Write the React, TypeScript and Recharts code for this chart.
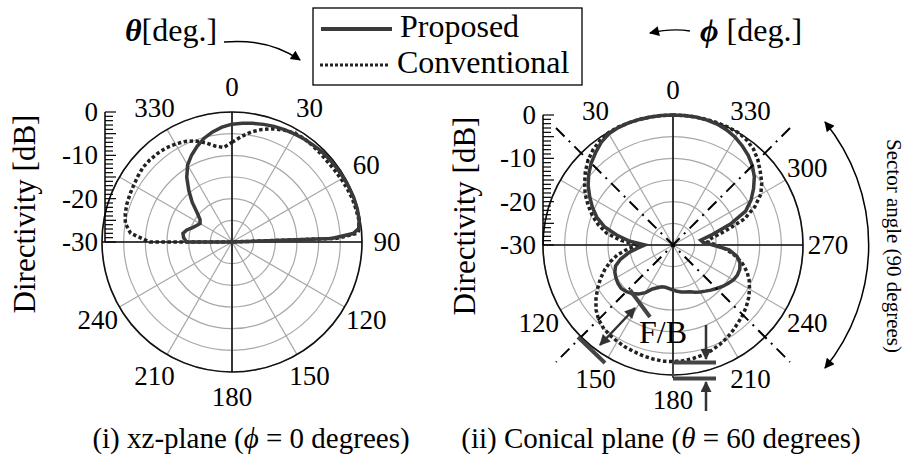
import React from "react";
import {
  LineChart,
  PolarAngleAxis,
  PolarGrid,
  PolarRadiusAxis,
  Radar,
  RadarChart,
  XAxis,
  YAxis,
} from "recharts";

// (i) xz-plane, theta in degrees (clockwise from top)
const LEFT_ANGLES = [
  0, 5, 10, 15, 20, 25, 30, 35, 40, 45, 50, 55, 60, 65, 70, 75, 80, 84, 86, 88, 90, 180, 268,
  270, 275, 280, 285, 290, 295, 300, 305, 310, 315, 320, 325, 330, 335, 340, 345, 350, 355,
];
const LEFT_PROPOSED = [
  -2.8, -2.5, -2.2, -1.9, -1.6, -1.4, -1.2, -1.0, -0.8, -0.6, -0.5, -0.4, -0.3, -0.2, -0.1, -0.1, -0.2, -0.6, -2, -7, -30, -30, -30,
  -19.5, -18.8, -18.5, -19.2, -20.3, -21, -21.5, -21, -19.5, -17, -14.5, -11.8, -9.5, -7.9, -6.5, -5.2, -4.2, -3.4,
];
const LEFT_CONVENTIONAL = [
  -7, -5.6, -4.2, -3.1, -2.2, -1.5, -1.0, -0.9, -1.0, -1.1, -1.2, -1.1, -0.9, -0.7, -0.5, -0.4, -0.3, -0.5, -0.9, -5.8, -30, -30, -30,
  -11, -6.5, -5.0, -4.5, -4.2, -4.0, -3.8, -3.5, -3.2, -3.2, -3.3, -3.5, -3.9, -4.4, -5.2, -6.3, -7.5, -8.1,
];

// (ii) conical plane, phi in degrees (counter-clockwise from top)
const RIGHT_ANGLES = [
  0, 5, 10, 15, 20, 25, 30, 35, 40, 45, 50, 55, 60, 65, 70, 75, 80, 85, 90, 95, 100, 105, 110, 115,
  120, 125, 130, 135, 140, 145, 150, 155, 160, 165, 170, 175, 180, 185, 190, 195, 200, 205, 210, 215,
  220, 225, 230, 235, 240, 245, 250, 255, 260, 265, 270, 275, 280, 285, 290, 295, 300, 305, 310, 315,
  320, 325, 330, 335, 340, 345, 350, 355,
];
const RIGHT_PROPOSED = [
  0, 0, 0, 0, 0, -0.1, -0.4, -1.1, -2.2, -3.3, -4.6, -6.1, -7.8, -9.5, -11.3, -13.6, -16.8, -20, -23.5, -21.8, -19.6, -17.5, -15.9, -15.2,
  -14.8, -14.5, -14.4, -14.8, -15.4, -16.2, -17.3, -18.8, -19.5, -20, -20.1, -19.9, -19.6, -19.3, -19, -18.8, -18.5, -18, -17.5, -17,
  -16.4, -15.8, -15.1, -14.5, -13.9, -13.6, -13.6, -14, -15, -17, -20.8, -23, -23.5, -20.5, -15.9, -11.5, -9.2, -7.3, -5.5, -4.1,
  -3, -2.1, -1.3, -0.7, -0.3, -0.1, 0, 0,
];
const RIGHT_CONVENTIONAL = [
  0, 0, 0, 0, 0, 0, -0.1, -0.6, -1.3, -2.3, -3.6, -5.1, -6.6, -8.4, -10.2, -12.2, -14.5, -18, -22, -19.5, -17, -15, -13.2, -11.5,
  -9.9, -8.3, -6.8, -5.7, -5.0, -4.6, -4.3, -4.0, -3.8, -3.5, -3.3, -3.1, -3.1, -3.2, -3.4, -3.7, -4.1, -4.6, -5.2, -5.9,
  -6.6, -7.2, -7.9, -8.7, -9.6, -10.6, -11.8, -13.4, -15.3, -17.5, -20, -22, -21, -17.5, -12.5, -9.2, -6.6, -5, -3.7, -2.3,
  -1.1, -0.4, 0, 0, 0, 0, 0, 0,
];

const ANGLE_TICKS = [0, 30, 60, 90, 120, 150, 180, 210, 240, 270, 300, 330];
const LEFT_HIDDEN = [270, 300];
const RIGHT_HIDDEN = [60, 90];
const GRID_SPOKES = [0, 30, 60, 90, 120, 150, 180, 210, 240, 270, 300, 330];
const MAIN_AXES = [0, 90, 180, 270];
const RULER_TICKS = Array.from({ length: 31 }, (_, i) => i - 30);
const RULER_LABELS = [-30, -20, -10, 0];

const FONT = '"Liberation Serif", "Times New Roman", serif';
const CURVE = "#3a3a3a";

const leftData = LEFT_ANGLES.map((angle, i) => ({
  angle,
  proposed: LEFT_PROPOSED[i],
  conventional: LEFT_CONVENTIONAL[i],
}));
const rightData = RIGHT_ANGLES.map((angle, i) => ({
  angle,
  proposed: RIGHT_PROPOSED[i],
  conventional: RIGHT_CONVENTIONAL[i],
}));
const rulerData = RULER_LABELS.map((v) => ({ v }));

function angleTick(hidden: number[]) {
  return (p: any) => {
    const v = p.payload?.value;
    if (hidden.includes(v) || v === 360) return <g />;
    return (
      <text
        x={p.x}
        y={p.y}
        textAnchor="middle"
        dominantBaseline="central"
        fontSize={27}
        fontFamily={FONT}
        fill="#000"
      >
        {v}
      </text>
    );
  };
}

function rulerTick(p: any) {
  const v = p.payload?.value;
  return (
    <g>
      <line x1={p.x} x2={p.x + (v % 5 === 0 ? 11 : 8)} y1={p.y} y2={p.y} stroke="#000" strokeWidth={1.2} />
      {RULER_LABELS.includes(v) && (
        <text x={p.x - 7} y={p.y} textAnchor="end" dominantBaseline="central" fontSize={27} fontFamily={FONT} fill="#000">
          {v}
        </text>
      )}
    </g>
  );
}

type PanelProps = {
  data: any[];
  left: number;
  top: number;
  endAngle: number;
  hidden: number[];
};

// chart box is 380 square, polar centre in its middle
function PolarPanel({ data, left, top, endAngle, hidden }: PanelProps) {
  return (
    <div style={{ position: "absolute", left, top }}>
      <RadarChart
        width={380}
        height={380}
        cx={190}
        cy={190}
        outerRadius={130}
        startAngle={90}
        endAngle={endAngle}
        data={data}
        margin={{ top: 0, right: 0, bottom: 0, left: 0 }}
      >
        <PolarGrid gridType="circle" stroke="#a8a8a8" strokeWidth={1.2} polarAngles={GRID_SPOKES} />
        <PolarGrid gridType="circle" stroke="#111" strokeWidth={1.6} polarAngles={MAIN_AXES} polarRadius={[130]} />
        <PolarAngleAxis
          dataKey="angle"
          type="number"
          domain={[0, 360]}
          ticks={ANGLE_TICKS}
          tickSize={25}
          tickLine={false}
          axisLine={false}
          tick={angleTick(hidden)}
        />
        <PolarRadiusAxis type="number" domain={[-30, 0]} tickCount={7} tick={false} axisLine={false} />
        <Radar
          dataKey="conventional"
          stroke="#222"
          strokeWidth={3.5}
          strokeDasharray="3.5 2.5"
          fill="none"
          fillOpacity={0}
          dot={false}
          isAnimationActive={false}
        />
        <Radar
          dataKey="proposed"
          stroke={CURVE}
          strokeWidth={3.5}
          fill="none"
          fillOpacity={0}
          dot={false}
          isAnimationActive={false}
        />
      </RadarChart>
    </div>
  );
}

// vertical dB ruler beside each polar plot, axis line at x = left + 105
function Ruler({ left, top }: { left: number; top: number }) {
  return (
    <div style={{ position: "absolute", left, top }}>
      <LineChart width={125} height={190} data={rulerData} margin={{ top: 30, right: 0, bottom: 30, left: 0 }}>
        <XAxis hide />
        <YAxis
          type="number"
          domain={[-30, 0]}
          ticks={RULER_TICKS}
          interval={0}
          width={105}
          tickSize={0}
          tickMargin={0}
          tickLine={false}
          allowDataOverflow
          axisLine={{ stroke: "#000", strokeWidth: 1.5 }}
          tick={rulerTick}
        />
      </LineChart>
    </div>
  );
}

export default function App() {
  return (
    <div
      style={{
        position: "absolute",
        left: 0,
        top: 0,
        width: 906,
        height: 458,
        background: "#fff",
        fontFamily: FONT,
        overflow: "hidden",
      }}
    >
      <PolarPanel data={leftData} left={42} top={52} endAngle={-270} hidden={LEFT_HIDDEN} />
      <PolarPanel data={rightData} left={483} top={55} endAngle={450} hidden={RIGHT_HIDDEN} />
      <Ruler left={0} top={82} />
      <Ruler left={438} top={85} />

      <svg width={906} height={458} style={{ position: "absolute", left: 0, top: 0, pointerEvents: "none" }}>
        <defs>
          <marker id="ah" viewBox="0 0 10 10" refX="9" refY="5" markerUnits="userSpaceOnUse" markerWidth="14" markerHeight="10" orient="auto-start-reverse">
            <path d="M0,0 L10,5 L0,10 z" fill="#000" />
          </marker>
          <marker id="ahg" viewBox="0 0 10 10" refX="9" refY="5" markerUnits="userSpaceOnUse" markerWidth="14" markerHeight="11" orient="auto-start-reverse">
            <path d="M0,0 L10,5 L0,10 z" fill="#333" />
          </marker>
        </defs>

        {/* legend */}
        <rect x={313} y={8} width={269} height={77} fill="none" stroke="#000" strokeWidth={1.3} />
        <line x1={321} x2={392} y1={29} y2={29} stroke={CURVE} strokeWidth={4} />
        <text x={400} y={37} fontSize={32} fontFamily={FONT}>Proposed</text>
        <line x1={320} x2={390} y1={65} y2={65} stroke="#222" strokeWidth={3} strokeDasharray="3 2" />
        <text x={397} y={73} fontSize={32} fontFamily={FONT}>Conventional</text>

        {/* axis name arrows */}
        <text x={125} y={41} fontSize={32} fontFamily={FONT}>
          <tspan fontStyle="italic" fontWeight="bold">θ</tspan>[deg.]
        </text>
        <path d="M224,42 Q268,38 300,60" fill="none" stroke="#000" strokeWidth={1.5} markerEnd="url(#ah)" />
        <text x={700} y={41} fontSize={32} fontFamily={FONT}>
          <tspan fontStyle="italic" fontWeight="bold">ϕ</tspan> [deg.]
        </text>
        <path d="M690,31 Q672,28 650,33" fill="none" stroke="#000" strokeWidth={1.5} markerEnd="url(#ah)" />

        {/* y titles */}
        <text transform="translate(35,214) rotate(-90)" textAnchor="middle" fontSize={31} fontFamily={FONT}>Directivity [dB]</text>
        <text transform="translate(475,216) rotate(-90)" textAnchor="middle" fontSize={31} fontFamily={FONT}>Directivity [dB]</text>

        {/* sector lines */}
        <line x1={556} y1={128} x2={790} y2={362} stroke="#000" strokeWidth={2} strokeDasharray="12 6 2 6" />
        <line x1={790} y1={128} x2={556} y2={362} stroke="#000" strokeWidth={2} strokeDasharray="12 6 2 6" />
        <path d="M825,122 A195,195 0 0 1 825,368" fill="none" stroke="#000" strokeWidth={1.5} markerStart="url(#ah)" markerEnd="url(#ah)" />
        <text transform="translate(887,246) rotate(90)" textAnchor="middle" fontSize={21} fontFamily={FONT}>Sector angle (90 degrees)</text>

        {/* F/B annotation */}
        <line x1={578} y1={337} x2={605} y2={363} stroke="#444" strokeWidth={4} />
        <line x1={630} y1={290} x2={650} y2={317} stroke="#444" strokeWidth={4} />
        <line x1={600} y1={345} x2={635} y2={308} stroke="#333" strokeWidth={2.5} markerStart="url(#ahg)" markerEnd="url(#ahg)" />
        <text x={663} y={343} textAnchor="middle" fontSize={32} fontFamily={FONT}>F/B</text>
        <line x1={673} y1={362} x2={673} y2={378} stroke="#444" strokeWidth={2} />
        <line x1={673} x2={716} y1={362.5} y2={362.5} stroke="#444" strokeWidth={4} />
        <line x1={673} x2={716} y1={378.5} y2={378.5} stroke="#444" strokeWidth={4} />
        <line x1={706} y1={325} x2={706} y2={359} stroke="#333" strokeWidth={2.5} markerEnd="url(#ahg)" />
        <line x1={706} y1={411} x2={706} y2={382} stroke="#333" strokeWidth={2.5} markerEnd="url(#ahg)" />

        {/* captions */}
        <text x={251} y={448} textAnchor="middle" fontSize={29} fontFamily={FONT}>
          (i) xz-plane (<tspan fontStyle="italic">ϕ</tspan> = 0 degrees)
        </text>
        <text x={661} y={448} textAnchor="middle" fontSize={29} fontFamily={FONT}>
          (ii) Conical plane (<tspan fontStyle="italic">θ</tspan> = 60 degrees)
        </text>
      </svg>
    </div>
  );
}
